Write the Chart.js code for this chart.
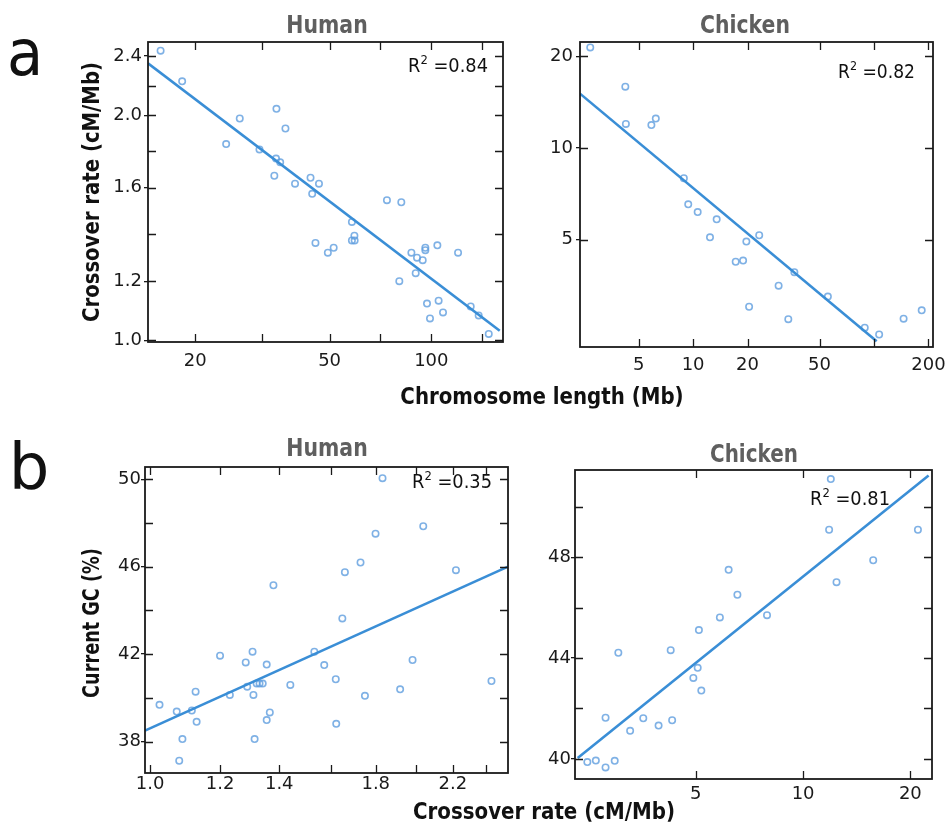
<!DOCTYPE html>
<html><head><meta charset="utf-8">
<script src="https://cdn.jsdelivr.net/npm/chart.js@4.4.1/dist/chart.umd.min.js"></script>
<style>
html,body{margin:0;padding:0;background:#fff;}
#wrap{position:relative;width:947px;height:828px;overflow:hidden;background:#fff;}
#wrap canvas{position:absolute;left:0;top:0;}
.lbl{position:absolute;white-space:nowrap;font-family:"DejaVu Sans";line-height:1;}
</style></head><body>
<div id="wrap">
<canvas id="c1" width="947" height="828"></canvas>
<canvas id="c2" width="947" height="828"></canvas>
<canvas id="c3" width="947" height="828"></canvas>
<canvas id="c4" width="947" height="828"></canvas>
</div>
<script>
// ---------- DATA ----------
// Panel a, Human: chromosome length (Mb) vs crossover rate (cM/Mb)
const aHumanLength = [15.8, 18.3, 24.7, 27.1, 31.0, 34.8, 37.0, 34.7, 35.7, 34.3, 39.5, 43.9, 46.5, 44.4, 45.4, 49.4, 51.4, 58.2, 58.2, 59.2, 59.3, 73.9, 81.5, 80.4, 87.3, 90.7, 89.9, 94.3, 96.0, 96.0, 104.2, 120.0, 97.1, 105.1, 99.1, 108.3, 130.8, 138.1, 147.9];
const aHumanRate   = [2.44, 2.22, 1.83, 1.98, 1.80, 2.04, 1.92, 1.75, 1.73, 1.66, 1.62, 1.65, 1.62, 1.57, 1.35, 1.31, 1.33, 1.44, 1.36, 1.38, 1.36, 1.54, 1.53, 1.20, 1.31, 1.29, 1.23, 1.28, 1.32, 1.33, 1.34, 1.31, 1.12, 1.13, 1.07, 1.09, 1.11, 1.08, 1.02];
const aHumanFitX = [14.5, 159.4];
const aHumanFitY = [2.347, 1.030];

// Panel a, Chicken
const aChickenLength = [2.70, 4.22, 4.25, 5.88, 6.22, 8.89, 9.40, 10.6, 13.5, 12.4, 17.2, 18.9, 19.7, 23.2, 20.4, 29.7, 36.3, 33.6, 55.6, 88.9, 106.8, 145.8, 183.6];
const aChickenRate   = [21.4, 15.9, 12.0, 11.9, 12.5, 7.96, 6.53, 6.16, 5.83, 5.09, 4.23, 4.27, 4.93, 5.17, 3.01, 3.53, 3.91, 2.74, 3.25, 2.57, 2.44, 2.75, 2.93];
const aChickenFitX = [2.37, 103.5];
const aChickenFitY = [15.09, 2.32];

// Panel b, Human: crossover rate (cM/Mb) vs current GC (%)
const bHumanRate = [1.025, 1.072, 1.115, 1.126, 1.129, 1.088, 1.079, 1.200, 1.231, 1.283, 1.306, 1.288, 1.309, 1.320, 1.330, 1.341, 1.355, 1.366, 1.355, 1.313, 1.379, 1.441, 1.534, 1.574, 1.622, 1.624, 1.650, 1.661, 1.730, 1.750, 1.799, 1.832, 1.918, 1.981, 2.037, 2.218, 2.433];
const bHumanGC   = [39.68, 39.37, 39.42, 40.28, 38.90, 38.11, 37.12, 41.93, 40.13, 41.62, 42.11, 40.51, 40.13, 40.66, 40.65, 40.65, 41.52, 39.33, 38.98, 38.11, 45.15, 40.59, 42.11, 41.50, 40.85, 38.81, 43.63, 45.75, 46.19, 40.09, 47.51, 50.05, 40.39, 41.73, 47.85, 45.84, 40.77];
const bHumanFitX = [0.987, 2.54];
const bHumanFitY = [38.50, 46.0];

// Panel b, Chicken
const bChickenRate = [2.48, 2.62, 2.79, 2.96, 2.79, 3.03, 3.27, 3.56, 3.93, 4.25, 4.29, 4.92, 5.06, 5.18, 5.10, 5.84, 6.18, 6.54, 7.92, 11.83, 11.96, 12.41, 15.73, 21.0];
const bChickenGC   = [39.87, 39.93, 39.66, 39.92, 41.63, 44.21, 41.11, 41.61, 41.32, 44.31, 41.53, 43.21, 43.61, 42.71, 45.11, 45.61, 47.50, 46.51, 45.70, 49.09, 51.10, 47.01, 47.88, 49.09];
const bChickenFitX = [2.33, 22.5];
const bChickenFitY = [40.03, 51.24];

// R-squared values
const r2Values = ['0.84', '0.82', '0.35', '0.81'];

// Tick values and labels
const aHumanXTicks  = [20, 31.62, 50, 70.71, 100, 141.4];
const aHumanXLabels = ['20', '', '50', '', '100', ''];
const aHumanYTicks  = [1.0, 1.2, 1.386, 1.6, 1.789, 2.0, 2.191, 2.4];
const aHumanYLabels = ['1.0', '1.2', '', '1.6', '', '2.0', '', '2.4'];
const aChickenXTicks  = [5, 10, 20, 50, 100, 200];
const aChickenXLabels = ['5', '10', '20', '50', '', '200'];
const aChickenYTicks  = [5, 10, 20];
const aChickenYLabels = ['5', '10', '20'];
const bHumanXTicks  = [1.0, 1.2, 1.4, 1.6, 1.8, 2.0, 2.2, 2.4];
const bHumanXLabels = ['1.0', '1.2', '1.4', '', '1.8', '', '2.2', ''];
const bHumanYTicks  = [38, 40, 42, 44, 46, 48, 50];
const bHumanYLabels = ['38', '', '42', '', '46', '', '50'];
const bChickenXTicks  = [5, 10, 20];
const bChickenXLabels = ['5', '10', '20'];
const bChickenYTicks  = [40, 42, 44, 46, 48, 50];
const bChickenYLabels = ['40', '', '44', '', '48', ''];

// ---------- RENDERING ----------
const W = 947, H = 828, YW = 70, XH = 40;
const TICKFONT = {family: 'DejaVu Sans', size: 18};

function buildPanel(id, cfg) {
  const pts = cfg.xs.map((x, i) => ({x: x, y: cfg.ys[i]}));
  const fit = cfg.fitX.map((x, i) => ({x: x, y: cfg.fitY[i]}));
  const plugin = {
    id: 'frameTicks' + id,
    afterDraw(chart) {
      const ctx = chart.ctx, a = chart.chartArea;
      const xs = chart.scales.x, ys = chart.scales.y;
      ctx.save();
      ctx.strokeStyle = '#1a1a1a';
      ctx.lineWidth = 1.3;
      ctx.beginPath();
      xs.ticks.forEach(t => {
        const px = Math.round(xs.getPixelForValue(t.value)) + 0.5;
        ctx.moveTo(px, a.bottom); ctx.lineTo(px, a.bottom - 8);
        ctx.moveTo(px, a.top); ctx.lineTo(px, a.top + 8);
      });
      ys.ticks.forEach(t => {
        const py = Math.round(ys.getPixelForValue(t.value)) + 0.5;
        ctx.moveTo(a.left, py); ctx.lineTo(a.left + 8, py);
        ctx.moveTo(a.right, py); ctx.lineTo(a.right - 8, py);
      });
      ctx.stroke();
      ctx.lineWidth = 1.8;
      ctx.strokeRect(a.left, a.top, a.right - a.left, a.bottom - a.top);
      // R^2 annotation
      const f1 = '20px "DejaVu Sans"', f2 = '13px "DejaVu Sans"';
      ctx.font = f1;
      const wR = ctx.measureText('R').width;
      const rest = ' =' + cfg.r2;
      const wRest = ctx.measureText(rest).width;
      ctx.font = f2;
      const w2 = ctx.measureText('2').width;
      const total = wR + w2 + wRest;
      const sx = cfg.r2W / total;
      ctx.fillStyle = '#111';
      ctx.textBaseline = 'alphabetic';
      ctx.textAlign = 'left';
      ctx.translate(cfg.r2Pos[0] - cfg.r2W, cfg.r2Pos[1]);
      ctx.scale(sx, 1);
      ctx.font = f1; ctx.fillText('R', 0, 0);
      ctx.font = f2; ctx.fillText('2', wR, -8);
      ctx.font = f1; ctx.fillText(rest, wR + w2, 0);
      ctx.restore();
    }
  };
  return new Chart(document.getElementById(id), {
    type: 'scatter',
    data: {datasets: [
      {data: pts, pointRadius: 3.2, pointHoverRadius: 3.2, pointBorderWidth: 1.6,
       pointBorderColor: 'rgba(95,158,222,0.8)', pointBackgroundColor: 'rgba(0,0,0,0)', order: 2},
      {data: fit, showLine: true, borderColor: '#3a8ed6', borderWidth: 2.6, pointRadius: 0, order: 1}
    ]},
    options: {
      responsive: false, animation: false, devicePixelRatio: 1,
      layout: {padding: {left: cfg.area[0] - YW, top: cfg.area[1], right: W - cfg.area[2], bottom: H - cfg.area[3] - XH}},
      plugins: {legend: {display: false}, tooltip: {enabled: false}},
      scales: {
        x: {
          type: cfg.xType, position: 'bottom', min: cfg.xRange[0], max: cfg.xRange[1],
          afterBuildTicks: s => { s.ticks = cfg.xTicks.map(v => ({value: v})); },
          afterFit: s => { s.height = XH; s.paddingLeft = 0; s.paddingRight = 0; s.paddingTop = 0; s.paddingBottom = 0; },
          ticks: {autoSkip: false, maxRotation: 0, minRotation: 0, padding: cfg.xPad, font: TICKFONT, color: '#1a1a1a',
                  callback: (v, i) => cfg.xLabels[i]},
          grid: {drawOnChartArea: false, drawTicks: false},
          border: {display: false}
        },
        y: {
          type: cfg.yType, position: 'left', min: cfg.yRange[0], max: cfg.yRange[1],
          afterBuildTicks: s => { s.ticks = cfg.yTicks.map(v => ({value: v})); },
          afterFit: s => { s.width = YW; s.paddingTop = 0; s.paddingBottom = 0; s.paddingLeft = 0; s.paddingRight = 0; },
          ticks: {autoSkip: false, padding: cfg.yPad, font: TICKFONT, color: '#1a1a1a',
                  callback: (v, i) => cfg.yLabels[i]},
          grid: {drawOnChartArea: false, drawTicks: true, tickLength: 4, lineWidth: 1.3,
                 tickColor: c => (c.tick && c.tick.label) ? '#1a1a1a' : 'rgba(0,0,0,0)'},
          border: {display: false}
        }
      }
    },
    plugins: [plugin]
  });
}

buildPanel('c1', {xs: aHumanLength, ys: aHumanRate, fitX: aHumanFitX, fitY: aHumanFitY,
  area: [148, 42, 503, 342], xType: 'logarithmic', yType: 'logarithmic',
  xRange: [14.5, 163], yRange: [0.995, 2.506],
  xTicks: aHumanXTicks, xLabels: aHumanXLabels, yTicks: aHumanYTicks, yLabels: aHumanYLabels,
  xPad: 9, yPad: 2, r2: r2Values[0], r2Pos: [488, 72], r2W: 80});

buildPanel('c2', {xs: aChickenLength, ys: aChickenRate, fitX: aChickenFitX, fitY: aChickenFitY,
  area: [580, 42, 933, 347], xType: 'logarithmic', yType: 'logarithmic',
  xRange: [2.37, 212], yRange: [2.22, 22.3],
  xTicks: aChickenXTicks, xLabels: aChickenXLabels, yTicks: aChickenYTicks, yLabels: aChickenYLabels,
  xPad: 8, yPad: 3, r2: r2Values[1], r2Pos: [915, 78], r2W: 77});

buildPanel('c3', {xs: bHumanRate, ys: bHumanGC, fitX: bHumanFitX, fitY: bHumanFitY,
  area: [145, 467, 508, 773], xType: 'logarithmic', yType: 'linear',
  xRange: [0.987, 2.54], yRange: [36.56, 50.56],
  xTicks: bHumanXTicks, xLabels: bHumanXLabels, yTicks: bHumanYTicks, yLabels: bHumanYLabels,
  xPad: 1, yPad: 0, r2: r2Values[2], r2Pos: [492, 488], r2W: 80});

buildPanel('c4', {xs: bChickenRate, ys: bChickenGC, fitX: bChickenFitX, fitY: bChickenFitY,
  area: [575, 470, 932, 779], xType: 'logarithmic', yType: 'linear',
  xRange: [2.29, 23.0], yRange: [39.2, 51.46],
  xTicks: bChickenXTicks, xLabels: bChickenXLabels, yTicks: bChickenYTicks, yLabels: bChickenYLabels,
  xPad: 5, yPad: 0, r2: r2Values[3], r2Pos: [890, 505], r2W: 80});

// ---------- TEXT LABELS ----------
const wrap = document.getElementById('wrap');
function place(text, cx, cy, fs, w, o) {
  o = o || {};
  const d = document.createElement('div');
  d.className = 'lbl';
  d.textContent = text;
  d.style.fontSize = fs + 'px';
  d.style.fontWeight = o.bold ? 'bold' : 'normal';
  d.style.color = o.color || '#111';
  d.style.left = cx + 'px';
  d.style.top = cy + 'px';
  wrap.appendChild(d);
  const s = w ? w / d.offsetWidth : 1;
  d.style.transform = 'translate(-50%,-50%) ' + (o.rot ? 'rotate(-90deg) ' : '') + 'scale(' + s + ',1)';
}
place('a', 25, 53, 64, 36);
place('b', 29, 467, 64, 0);
place('Human', 327, 25, 24, 81, {bold: true, color: '#5f5f5f'});
place('Chicken', 745, 25, 24, 90, {bold: true, color: '#5f5f5f'});
place('Human', 327, 448, 24, 81, {bold: true, color: '#5f5f5f'});
place('Chicken', 754, 454, 24, 88, {bold: true, color: '#5f5f5f'});
place('Crossover rate (cM/Mb)', 91, 192, 23, 260, {bold: true, rot: true});
place('Chromosome length (Mb)', 542, 396, 23, 283, {bold: true});
place('Current GC (%)', 91, 623, 23, 150, {bold: true, rot: true});
place('Crossover rate (cM/Mb)', 544, 811, 23, 262, {bold: true});
</script>
</body></html>
